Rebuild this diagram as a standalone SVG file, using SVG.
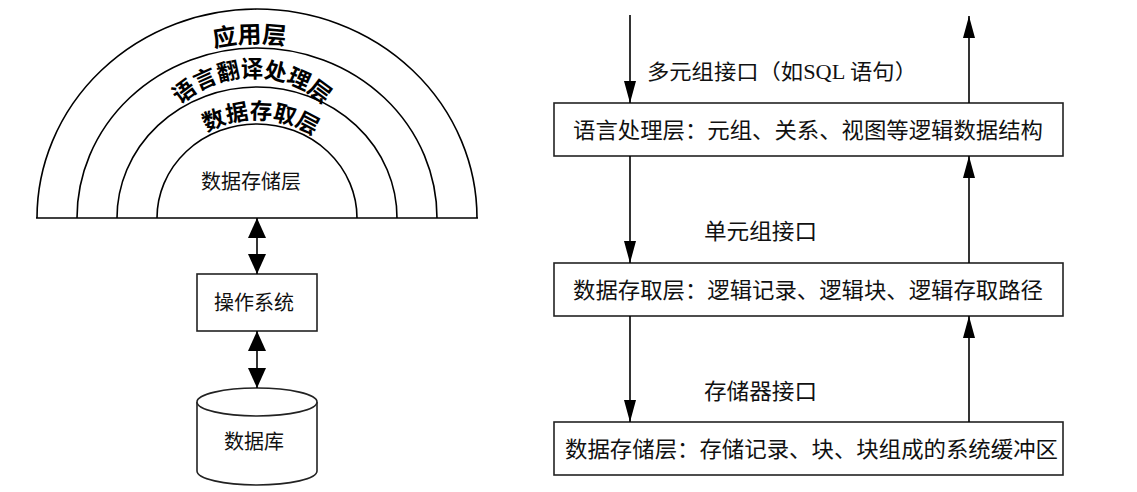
<svg xmlns="http://www.w3.org/2000/svg" width="1137" height="492" viewBox="0 0 1137 492">
<style>
.ln{fill:none;stroke:#000;stroke-width:1.6}
.bx{fill:#fff;stroke:#222;stroke-width:1.6}
.t{font-family:"Liberation Serif","Noto Sans CJK SC",serif;fill:#111}
.b{font-family:"Liberation Sans","Noto Sans CJK SC",sans-serif;font-weight:bold;fill:#000}
</style>
<defs>
<marker id="ah" markerUnits="userSpaceOnUse" markerWidth="22" markerHeight="12" refX="22" refY="6" orient="auto-start-reverse">
<path d="M0,0 L22,6 L0,12 z" fill="#000"/>
</marker>
<marker id="ah2" markerUnits="userSpaceOnUse" markerWidth="20" markerHeight="18" refX="20" refY="9" orient="auto-start-reverse">
<path d="M0,0 L20,9 L0,18 z" fill="#000"/>
</marker>
<path id="p1" d="M72,218 A185,175 0 0 1 442,218"/>
<path id="p2" d="M146,183 A106,106 0 0 1 358,183"/>
<path id="p3" d="M155,221 A102,102 0 0 1 359,221"/>
</defs>

<g id="layers">
<path class="ln" d="M37,218 A220,209 0 0 1 477,218"/>
<path class="ln" d="M77,218 A180,170 0 0 1 437,218"/>
<path class="ln" d="M117,218 A140,131 0 0 1 397,218"/>
<path class="ln" d="M157,218 A100,94 0 0 1 357,218"/>
<line class="ln" x1="36" y1="218" x2="478" y2="218"/>
<text class="b" font-size="24" text-anchor="middle"><textPath href="#p1" startOffset="48.7%">应用层</textPath></text>
<text class="b" font-size="22.5" text-anchor="middle"><textPath href="#p2" startOffset="50%">语言翻译处理层</textPath></text>
<text class="b" font-size="22.5" text-anchor="middle"><textPath href="#p3" startOffset="51.2%">数据存取层</textPath></text>
<text class="t" x="251" y="189" font-size="20" text-anchor="middle">数据存储层</text>
</g>

<g id="os">
<rect class="bx" x="197" y="274" width="120" height="57"/>
<text class="t" x="254" y="310" font-size="20" text-anchor="middle">操作系统</text>
</g>

<g id="db">
<path class="bx" d="M197,402 L197,471 A60,14 0 0 0 317,471 L317,402"/>
<ellipse class="bx" cx="257" cy="402" rx="60" ry="14"/>
<text class="t" x="254" y="449" font-size="20" text-anchor="middle">数据库</text>
</g>

<g id="box1">
<rect class="bx" x="554" y="103" width="509" height="53"/>
<text class="t" x="573" y="138" font-size="22" textLength="470" lengthAdjust="spacingAndGlyphs">语言处理层：元组、关系、视图等逻辑数据结构</text>
</g>
<g id="box2">
<rect class="bx" x="554" y="263" width="509" height="53"/>
<text class="t" x="573" y="298" font-size="22" textLength="470" lengthAdjust="spacingAndGlyphs">数据存取层：逻辑记录、逻辑块、逻辑存取路径</text>
</g>
<g id="box3">
<rect class="bx" x="554" y="422" width="509" height="53"/>
<text class="t" x="565" y="457" font-size="22" textLength="493" lengthAdjust="spacingAndGlyphs">数据存储层：存储记录、块、块组成的系统缓冲区</text>
</g>

<g id="connectors">
<line class="ln" x1="257" y1="218" x2="257" y2="274" marker-start="url(#ah2)" marker-end="url(#ah2)"/>
<line class="ln" x1="257" y1="331" x2="257" y2="388" marker-start="url(#ah2)" marker-end="url(#ah2)"/>
<line class="ln" x1="630" y1="15" x2="630" y2="103" marker-end="url(#ah)"/>
<line class="ln" x1="630" y1="156" x2="630" y2="263" marker-end="url(#ah)"/>
<line class="ln" x1="630" y1="316" x2="630" y2="422" marker-end="url(#ah)"/>
<line class="ln" x1="969" y1="103" x2="969" y2="16" marker-end="url(#ah)"/>
<line class="ln" x1="969" y1="263" x2="969" y2="156" marker-end="url(#ah)"/>
<line class="ln" x1="969" y1="422" x2="969" y2="316" marker-end="url(#ah)"/>
<text class="t" x="647" y="79" font-size="21" textLength="270" lengthAdjust="spacingAndGlyphs">多元组接口（如SQL 语句）</text>
<text class="t" x="704" y="239" font-size="22" textLength="113" lengthAdjust="spacingAndGlyphs">单元组接口</text>
<text class="t" x="704" y="399" font-size="22" textLength="113" lengthAdjust="spacingAndGlyphs">存储器接口</text>
</g>
</svg>
